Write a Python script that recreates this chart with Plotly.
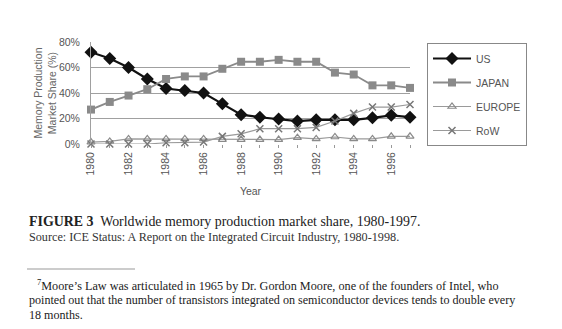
import plotly.graph_objects as go

years = list(range(1980, 1998))
us = [72, 67, 60, 51, 43.5, 42, 40, 31.5, 23, 21, 19.6, 18, 19, 19, 19, 20.5, 22.5, 21]
japan = [27, 33, 38, 43, 51, 53, 53, 59, 64.5, 64.5, 66, 64.5, 64.5, 56, 54.5, 46, 46, 44]
europe = [1.5, 2, 4, 4, 4, 4, 4, 3.5, 3.5, 3.5, 3.5, 5, 4, 5.5, 4, 4, 6, 6]
row = [0, 0, 0, 0, 1, 1, 1.5, 6, 8, 12, 12, 12, 13, 18, 24, 29, 29, 31]
names = ["US", "JAPAN", "EUROPE", "RoW"]
ytick_vals = [0, 20, 40, 60, 80]
ytick_text = ["0%", "20%", "40%", "60%", "80%"]
xtick_vals = list(range(1980, 1997, 2))
xtick_text = [str(y) for y in xtick_vals]

W, H = 562, 329
L, R, T, B = 91, 410, 42, 144

def px(x):
    return (x - L) / (R - L)

def py(y):
    return (B - y) / (B - T)

fig = go.Figure()
fig.add_trace(go.Scatter(x=years, y=us, name=names[0], mode="lines+markers",
                         line=dict(color="#111111", width=2.2),
                         marker=dict(symbol="diamond", size=10, color="#111111"),
                         cliponaxis=False, legendgroup="a"))
fig.add_trace(go.Scatter(x=years, y=japan, name=names[1], mode="lines+markers",
                         line=dict(color="#8a8a8a", width=1.8),
                         marker=dict(symbol="square", size=8, color="#8a8a8a"),
                         cliponaxis=False, legendgroup="b"))
fig.add_trace(go.Scatter(x=years, y=europe, name=names[2], mode="lines+markers",
                         line=dict(color="#9a9a9a", width=1.2),
                         marker=dict(symbol="triangle-up-open", size=7, color="#8a8a8a",
                                     line=dict(width=1.2)),
                         cliponaxis=False, legendgroup="c"))
fig.add_trace(go.Scatter(x=years, y=row, name=names[3], mode="lines+markers",
                         line=dict(color="#9a9a9a", width=1.2),
                         marker=dict(symbol="x-thin-open", size=7, color="#777777",
                                     line=dict(width=1.5)),
                         cliponaxis=False, legendgroup="d"))

font_sans = "Liberation Sans, Arial, sans-serif"
font_serif = "Liberation Serif, Times New Roman, serif"
tc = "#555555"

fig.update_layout(
    width=W, height=H,
    margin=dict(l=L, r=W - R, t=T, b=H - B, pad=0),
    paper_bgcolor="white", plot_bgcolor="white",
    font=dict(family=font_sans, color=tc, size=10.5),
    showlegend=True,
    legend=dict(x=px(427), y=py(43), xanchor="left", yanchor="top",
                bordercolor="#888888", borderwidth=1, bgcolor="white",
                font=dict(size=10.5, color=tc), maxheight=200,
                traceorder="grouped", tracegroupgap=5, itemwidth=38),
    xaxis=dict(range=[1980, 1997], tickmode="array", tickvals=xtick_vals,
               ticktext=xtick_text,
               tickangle=-90, ticks="outside", ticklen=3, tickcolor="#999999",
               minor=dict(ticks="outside", dtick=1, ticklen=3, tickcolor="#999999"),
               showgrid=False, showline=False, zeroline=False,
               tickfont=dict(size=10.5, color=tc),
               title=dict(text="Year", font=dict(size=10.5, color=tc), standoff=13)),
    yaxis=dict(range=[0, 80], tickmode="array", tickvals=ytick_vals, ticktext=ytick_text,
               showgrid=True, gridcolor="#a0a0a0", gridwidth=1,
               showline=True, linecolor="#a0a0a0", linewidth=1,
               zeroline=False, ticks="", ticklabelstandoff=8,
               tickfont=dict(size=10.5, color=tc),
               title=dict(text="Memory Production<br>Market Share (%)",
                          font=dict(size=10.5, color="#666666"), standoff=0)),
)

annos = [
    dict(x=px(27), y=py(221), text="<b>FIGURE 3</b>  Worldwide memory production market share, 1980-1997.",
         font=dict(family=font_serif, size=13.9, color="#222222")),
    dict(x=px(27), y=py(237), text="Source: ICE Status: A Report on the Integrated Circuit Industry, 1980-1998.",
         font=dict(family=font_serif, size=12.2, color="#333333")),
    dict(x=px(35), y=py(285), text="<sup>7</sup>Moore\u2019s Law was articulated in 1965 by Dr. Gordon Moore, one of the founders of Intel, who",
         font=dict(family=font_serif, size=12.2, color="#222222")),
    dict(x=px(27), y=py(300), text="pointed out that the number of transistors integrated on semiconductor devices tends to double every",
         font=dict(family=font_serif, size=12.1, color="#222222")),
    dict(x=px(27), y=py(315), text="18 months.",
         font=dict(family=font_serif, size=12.1, color="#222222")),
]
for a in annos:
    fig.add_annotation(xref="paper", yref="paper", xanchor="left", yanchor="middle",
                       showarrow=False, **a)

fig.add_shape(type="line", xref="paper", yref="paper", x0=px(27), x1=px(135),
              y0=py(269), y1=py(269), line=dict(color="#999999", width=1))

fig.write_html("out.html")
